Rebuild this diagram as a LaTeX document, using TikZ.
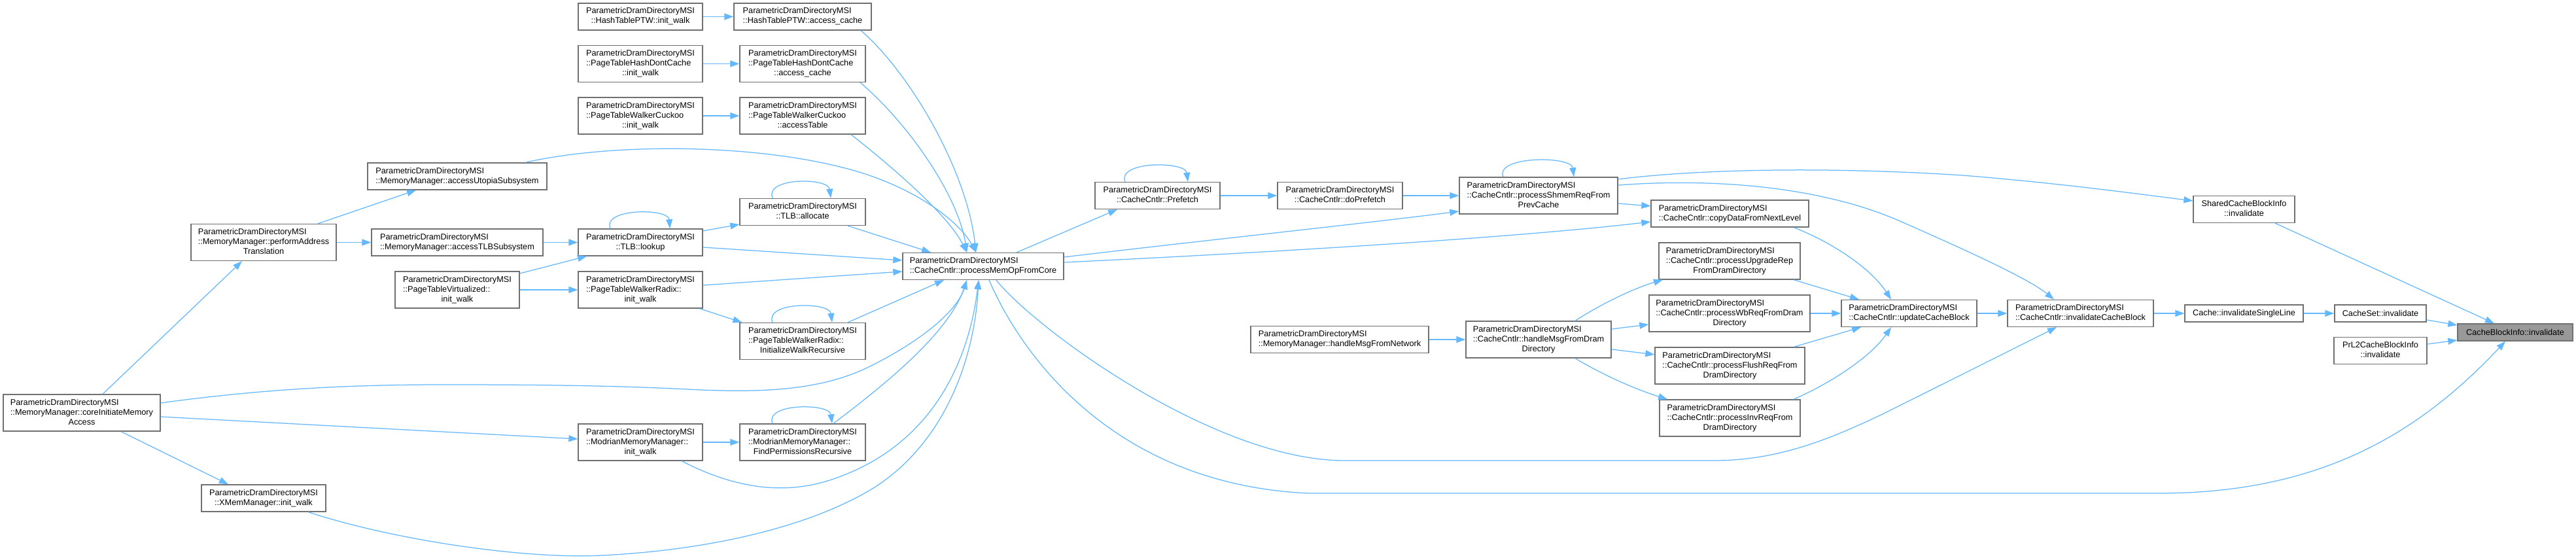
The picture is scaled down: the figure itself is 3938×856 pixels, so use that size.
\documentclass[tikz,border=0pt]{standalone}
\usepackage{fontspec}
\setmainfont{Liberation Sans}
\usetikzlibrary{arrows.meta}
\definecolor{edgec}{HTML}{63B8FF}
\definecolor{nodeb}{HTML}{707070}
\definecolor{hlf}{HTML}{999999}
\newcommand{\twoL}[2]{\begin{tabular}{@{}l@{}}#1\\\multicolumn{1}{@{}c@{}}{#2}\end{tabular}}
\newcommand{\threeL}[3]{\begin{tabular}{@{}l@{}}#1\\#2\\\multicolumn{1}{@{}c@{}}{#3}\end{tabular}}
\newcommand{\PD}{ParametricDramDirectoryMSI}
\tikzset{
 fn/.style={draw=nodeb, fill=white, line width=1.3pt, inner xsep=3pt, inner ysep=0pt,
   font=\fontsize{12.7pt}{15pt}\selectfont, minimum height=41pt, text=black},
 hl/.style={fn, fill=hlf},
 cedge/.style={draw=edgec, line width=1.25pt, -{Triangle[length=14pt,width=10pt]}},
}
\begin{document}
\begin{tikzpicture}[x=1pt,y=-1pt]
\fill[white] (0,0) rectangle (3938,856);
\useasboundingbox (0,0) rectangle (3938,856);
% nodes
\node[fn,minimum width=190pt] (hpi) at (979,25.5) {\twoL{\PD}{::HashTablePTW::init\_walk}};
\node[fn,minimum width=210pt] (hpa) at (1227,25.5) {\twoL{\PD}{::HashTablePTW::access\_cache}};
\node[fn,minimum width=190pt,minimum height=56pt] (pdi) at (979,97.5) {\threeL{\PD}{::PageTableHashDontCache}{::init\_walk}};
\node[fn,minimum width=192pt,minimum height=56pt] (pda) at (1227,97.5) {\threeL{\PD}{::PageTableHashDontCache}{::access\_cache}};
\node[fn,minimum width=190pt,minimum height=56pt] (pci) at (979,177) {\threeL{\PD}{::PageTableWalkerCuckoo}{::init\_walk}};
\node[fn,minimum width=192pt,minimum height=56pt] (pca) at (1227,177) {\threeL{\PD}{::PageTableWalkerCuckoo}{::accessTable}};
\node[fn,minimum width=274pt] (aus) at (699,269.5) {\twoL{\PD}{::MemoryManager::accessUtopiaSubsystem}};
\node[fn,minimum width=222pt,minimum height=56pt] (pat) at (403,370.5) {\threeL{\PD}{::MemoryManager::performAddress}{Translation}};
\node[fn,minimum width=262pt] (ats) at (699,370.5) {\twoL{\PD}{::MemoryManager::accessTLBSubsystem}};
\node[fn,minimum width=190pt,minimum height=56pt] (ptv) at (699,443) {\threeL{\PD}{::PageTableVirtualized::}{init\_walk}};
\node[fn,minimum width=190pt] (tll) at (979,370.5) {\twoL{\PD}{::TLB::lookup}};
\node[fn,minimum width=192pt] (tla) at (1227,324) {\twoL{\PD}{::TLB::allocate}};
\node[fn,minimum width=190pt,minimum height=56pt] (rdi) at (979,443) {\threeL{\PD}{::PageTableWalkerRadix::}{init\_walk}};
\node[fn,minimum width=192pt,minimum height=56pt] (iwr) at (1227,521.5) {\threeL{\PD}{::PageTableWalkerRadix::}{InitializeWalkRecursive}};
\node[fn,minimum width=240pt,minimum height=56pt] (cim) at (125,631) {\threeL{\PD}{::MemoryManager::coreInitiateMemory}{Access}};
\node[fn,minimum width=190pt,minimum height=56pt] (mmi) at (979,676) {\threeL{\PD}{::ModrianMemoryManager::}{init\_walk}};
\node[fn,minimum width=192pt,minimum height=56pt] (fpr) at (1227,676) {\threeL{\PD}{::ModrianMemoryManager::}{FindPermissionsRecursive}};
\node[fn,minimum width=190pt] (xmi) at (403,761.5) {\twoL{\PD}{::XMemManager::init\_walk}};
\node[fn,minimum width=246pt] (pmo) at (1503,407) {\twoL{\PD}{::CacheCntlr::processMemOpFromCore}};
\node[fn,minimum width=191pt] (pre) at (1769.5,299) {\twoL{\PD}{::CacheCntlr::Prefetch}};
\node[fn,minimum width=191pt] (dpf) at (2048.5,299) {\twoL{\PD}{::CacheCntlr::doPrefetch}};
\node[fn,minimum width=272pt] (hmn) at (2048,519) {\twoL{\PD}{::MemoryManager::handleMsgFromNetwork}};
\node[fn,minimum width=242pt,minimum height=56pt] (psr) at (2352,299) {\threeL{\PD}{::CacheCntlr::processShmemReqFrom}{PrevCache}};
\node[fn,minimum width=241pt] (cdn) at (2644.5,326.5) {\twoL{\PD}{::CacheCntlr::copyDataFromNextLevel}};
\node[fn,minimum width=216pt,minimum height=56pt] (pur) at (2644,399) {\threeL{\PD}{::CacheCntlr::processUpgradeRep}{FromDramDirectory}};
\node[fn,minimum width=222pt,minimum height=56pt] (hmd) at (2352,519) {\threeL{\PD}{::CacheCntlr::handleMsgFromDram}{Directory}};
\node[fn,minimum width=246pt,minimum height=56pt] (pwb) at (2644,479) {\threeL{\PD}{::CacheCntlr::processWbReqFromDram}{Directory}};
\node[fn,minimum width=229pt,minimum height=56pt] (pfl) at (2644.5,559) {\threeL{\PD}{::CacheCntlr::processFlushReqFrom}{DramDirectory}};
\node[fn,minimum width=215pt,minimum height=56pt] (piv) at (2644.5,639) {\threeL{\PD}{::CacheCntlr::processInvReqFrom}{DramDirectory}};
\node[fn,minimum width=207pt] (ucb) at (2918.5,479) {\twoL{\PD}{::CacheCntlr::updateCacheBlock}};
\node[fn,minimum width=223pt] (icb) at (3180.5,479) {\twoL{\PD}{::CacheCntlr::invalidateCacheBlock}};
\node[fn,minimum width=155pt] (scb) at (3430.5,320) {\twoL{SharedCacheBlockInfo}{::invalidate}};
\node[fn,minimum width=181pt,minimum height=26pt] (cil) at (3430.5,479) {Cache::invalidateSingleLine};
\node[fn,minimum width=140pt,minimum height=26pt] (csi) at (3639,479) {CacheSet::invalidate};
\node[fn,minimum width=142pt] (prl) at (3639,536) {\twoL{PrL2CacheBlockInfo}{::invalidate}};
\node[hl,minimum width=176pt,minimum height=26pt] (cbi) at (3845,508) {CacheBlockInfo::invalidate};
% edges
\draw[cedge] (hpi) -- (hpa);
\draw[cedge] (pdi) -- (pda);
\draw[cedge] (pci) -- (pca);
\draw[cedge] ([xshift=89pt]hpa.south) .. controls (1390,110) and (1478,260) .. ([xshift=-11pt]pmo.north);
\draw[cedge] ([xshift=88pt]pda.south) .. controls (1390,190) and (1465,300) .. ([xshift=-25pt]pmo.north);
\draw[cedge] ([xshift=74pt]pca.south) .. controls (1370,260) and (1450,330) .. ([xshift=-25pt]pmo.north);
\draw[cedge] ([xshift=104pt]aus.north) .. controls (950,215) and (1200,220) .. (1340,272) .. controls (1420,302) and (1470,345) .. ([xshift=-11pt]pmo.north);
\draw[cedge] ([xshift=69pt]tla.south) -- ([xshift=-80pt]pmo.north);
\draw[cedge] ([yshift=-7.5pt]tll.east) -- ([yshift=9pt]pmo.west);
\draw[cedge] ([yshift=7pt]rdi.east) -- ([yshift=-8pt]pmo.west);
\draw[cedge] ([xshift=69pt]iwr.north) -- ([xshift=-60pt]pmo.south);
\draw[cedge] ([xshift=47pt]fpr.north) .. controls (1350,590) and (1450,510) .. ([xshift=-25pt]pmo.south);
\draw[cedge] ([xshift=63pt]mmi.south) .. controls (1120,745) and (1200,760) .. (1280,730) .. controls (1420,680) and (1480,560) .. ([xshift=-7pt]pmo.south);
\draw[cedge] ([yshift=15pt]cim.east) .. controls (420,592) and (560,588) .. (680,588) .. controls (850,588) and (950,590) .. (1050,595) .. controls (1150,600) and (1250,600) .. (1330,560) .. controls (1420,515) and (1465,470) .. ([xshift=-25pt]pmo.south);
\draw[cedge] ([xshift=68pt]xmi.south) .. controls (600,825) and (800,855) .. (920,849) .. controls (1100,840) and (1250,800) .. (1340,743) .. controls (1450,670) and (1490,540) .. ([xshift=-7pt]pmo.south);
\draw[cedge] ([yshift=-6pt]cim.east) -- ([yshift=5pt]mmi.west);
\draw[cedge] ([xshift=32pt]cim.north) -- ([xshift=-33pt]pat.south);
\draw[cedge] ([xshift=60pt]cim.south) -- ([xshift=-54pt]xmi.north);
\draw[cedge] ([xshift=83pt]pat.north) -- ([xshift=-63pt]aus.south);
\draw[cedge] (pat) -- (ats);
\draw[cedge] (ats) -- (tll);
\draw[cedge] ([yshift=25pt]ptv.east) -- ([xshift=-82pt]tll.south);
\draw[cedge] (ptv) -- (rdi);
\draw[cedge] ([yshift=17.5pt]tll.east) -- ([yshift=-19pt]tla.west);
\draw[cedge] ([xshift=-46pt]tll.north) .. controls (920,318) and (1022,318) .. ([xshift=45pt]tll.north);
\draw[cedge] ([xshift=-46pt]tla.north) .. controls (1168,271) and (1266,271) .. ([xshift=43pt]tla.north);
\draw[cedge] ([xshift=-5pt]rdi.south east) -- ([xshift=4pt]iwr.north west);
\draw[cedge] ([xshift=-46pt]iwr.north) .. controls (1168,461) and (1268,461) .. ([xshift=45pt]iwr.north);
\draw[cedge] (mmi) -- (fpr);
\draw[cedge] ([xshift=-46pt]fpr.north) .. controls (1168,616) and (1268,616) .. ([xshift=45pt]fpr.north);
\draw[cedge] ([xshift=51pt]pmo.north) -- ([xshift=-61.5pt]pre.south);
\draw[cedge] ([xshift=-49.5pt]pre.north) .. controls (1707,246) and (1812,246) .. ([xshift=46.5pt]pre.north);
\draw[cedge] (pre) -- (dpf);
\draw[cedge] (dpf) -- (psr);
\draw[cedge] ([xshift=-54pt]psr.north) .. controls (2285,238) and (2402,238) .. ([xshift=54pt]psr.north);
\draw[cedge] ([yshift=14pt]pmo.east) .. controls (1800,372) and (2100,340) .. ([yshift=-24pt]psr.west);
\draw[cedge] ([yshift=6pt]pmo.east) .. controls (1900,388) and (2300,365) .. ([yshift=-12.5pt]cdn.west);
\draw[cedge] ([yshift=-12pt]psr.east) -- ([yshift=11.5pt]cdn.west);
\draw[cedge] ([yshift=25pt]psr.east) .. controls (2600,258) and (2800,255) .. (3000,268) .. controls (3150,280) and (3280,298) .. ([yshift=13pt]scb.west);
\draw[cedge] ([yshift=16pt]psr.east) .. controls (2620,272) and (2780,285) .. (2900,336) .. controls (3000,380) and (3100,425) .. ([xshift=-40.5pt]icb.north);
\draw[cedge] ([xshift=97.5pt]cdn.south) .. controls (2800,370) and (2860,410) .. ([xshift=-27.5pt]ucb.north);
\draw[cedge] ([xshift=98pt]pur.south) -- ([xshift=-76.5pt]ucb.north);
\draw[cedge] (pwb) -- (ucb);
\draw[cedge] ([xshift=97.5pt]pfl.north) -- ([xshift=-73.5pt]ucb.south);
\draw[cedge] ([xshift=97.5pt]piv.north) .. controls (2800,585) and (2860,545) .. ([xshift=-27.5pt]ucb.south);
\draw[cedge] ([xshift=56pt]hmd.north) .. controls (2450,463) and (2500,440) .. ([xshift=-102pt]pur.south);
\draw[cedge] ([yshift=16pt]hmd.east) -- ([yshift=-17pt]pwb.west);
\draw[cedge] ([yshift=-15pt]hmd.east) -- ([yshift=17pt]pfl.west);
\draw[cedge] ([xshift=56pt]hmd.south) .. controls (2450,573) and (2500,595) .. ([xshift=-95.5pt]piv.north);
\draw[cedge] (hmn) -- (hmd);
\draw[cedge] (ucb) -- (icb);
\draw[cedge] (icb) -- (cil);
\draw[cedge] (cil) -- (csi);
\draw[cedge] ([yshift=-10pt]csi.east) -- ([yshift=11pt]cbi.west);
\draw[cedge] ([yshift=10pt]prl.east) -- ([yshift=-12pt]cbi.west);
\draw[cedge] ([xshift=47.5pt]scb.south) -- ([xshift=-32pt]cbi.north);
\draw[cedge] ([xshift=20pt]pmo.south) .. controls (1580,500) and (1850,700) .. (2050,704) -- (2620,704) .. controls (2720,704) and (2800,670) .. (2880,632) -- ([xshift=-36.5pt]icb.south);
\draw[cedge] ([xshift=9pt]pmo.south) .. controls (1560,540) and (1700,740) .. (2000,754) -- (3300,754) .. controls (3550,754) and (3700,660) .. ([xshift=-15pt]cbi.south);
\end{tikzpicture}
\end{document}
